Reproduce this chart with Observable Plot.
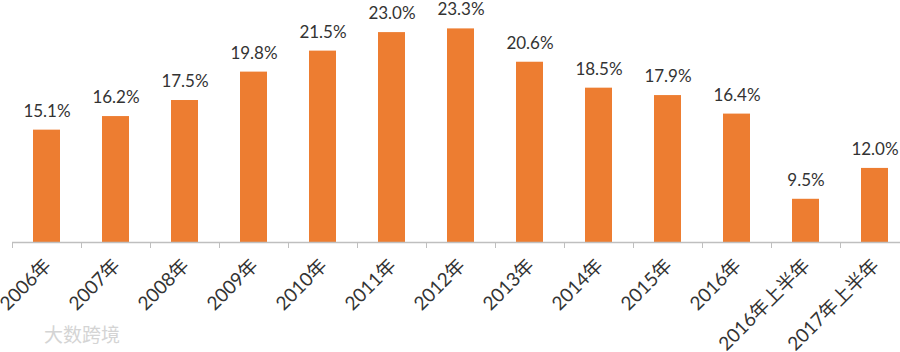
<!DOCTYPE html>
<html>
<head>
<meta charset="utf-8">
<script src="https://cdn.jsdelivr.net/npm/d3@7"></script>
<script src="https://cdn.jsdelivr.net/npm/@observablehq/plot@0.6"></script>
<style>
  html, body { margin: 0; padding: 0; background: #fff; overflow: hidden; }
  #wrap { position: relative; width: 900px; height: 352px; }
  #wm { position: absolute; left: 44px; top: 320px; font: 19px "Noto Sans CJK SC", sans-serif; color: #d4d4d4; }
</style>
</head>
<body>
<div id="wrap"><div id="wm">大数跨境</div></div>
<script>
const categories = ["2006年","2007年","2008年","2009年","2010年","2011年","2012年","2013年","2014年","2015年","2016年","2016年上半年","2017年上半年"];
const values = [15.1, 16.2, 17.5, 19.8, 21.5, 23.0, 23.3, 20.6, 18.5, 17.9, 16.4, 9.5, 12.0];
const yBase = 6;
const yTop = 25.6;

const data = categories.map((c, i) => ({category: c, value: values[i], label: values[i].toFixed(1) + "%"}));

const xRange = [12, 909];
const step = (xRange[1] - xRange[0]) / categories.length;

const chart = Plot.plot({
  width: 900,
  height: 352,
  marginTop: 0,
  marginBottom: 110,
  marginLeft: 12,
  marginRight: 0,
  x: {domain: categories, range: xRange, padding: 0, label: null},
  y: {domain: [yBase, yTop], axis: null},
  style: {fontFamily: "Lato, 'Noto Sans CJK SC', sans-serif", fontSize: "17px", color: "#333", background: "#fff", overflow: "visible"},
  marks: [
    Plot.barY(data, {x: "category", y1: yBase, y2: "value", fill: "#ED7D31", insetLeft: 21, insetRight: 21}),
    Plot.ruleY([yBase], {stroke: "#bfbfbf", strokeWidth: 1.5}),
    Plot.axisX({tickSize: 6, tickFormat: () => "", dx: -step / 2, stroke: "#bfbfbf", label: null}),
    Plot.axisX({tickSize: 0, tickPadding: 20, tickRotate: -45, fill: "#333", fontSize: 19, dx: 1, label: null}),
    Plot.text(data, {x: "category", y: "value", text: "label", dy: -19, fontSize: 17, fill: "#333"})
  ]
});
document.getElementById("wrap").prepend(chart);
</script>
</body>
</html>
